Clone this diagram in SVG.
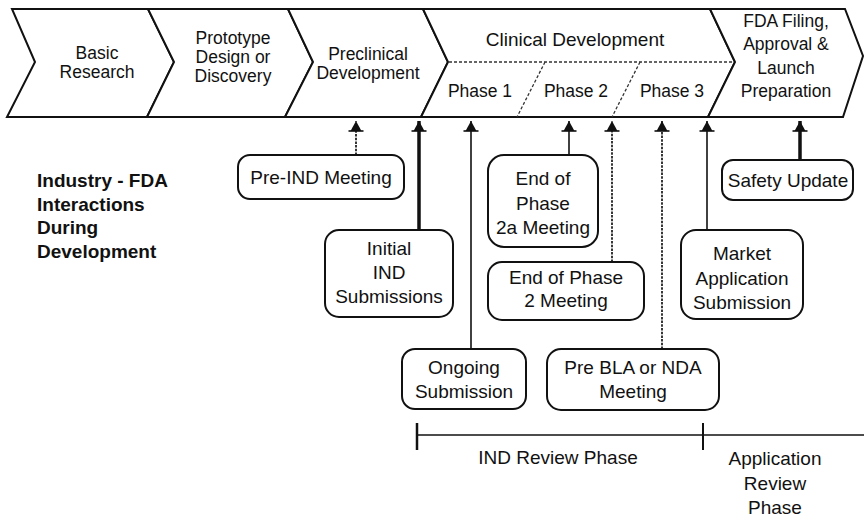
<svg xmlns="http://www.w3.org/2000/svg" width="864" height="518" viewBox="0 0 864 518">
<style>
.t{font-family:"Liberation Sans",Arial,sans-serif;font-size:19px;fill:#111;text-anchor:middle}
.s{font-family:"Liberation Sans",Arial,sans-serif;font-size:17.5px;fill:#111;text-anchor:middle}
.b{font-family:"Liberation Sans",Arial,sans-serif;font-size:19px;font-weight:bold;fill:#111}
.chev{fill:#fff;stroke:#111;stroke-width:2;stroke-linejoin:miter}
.box{fill:#fff;stroke:#111;stroke-width:2}
.dash{fill:none;stroke:#333;stroke-width:1.3;stroke-dasharray:3 2}
.c{fill:none;stroke:#111;stroke-width:1.6}
.cd{fill:none;stroke:#222;stroke-width:1.8;stroke-dasharray:2.5 1.2}
.ck{fill:none;stroke:#111;stroke-width:3.5}
</style>
<defs>
<marker id="ah" viewBox="-13 -9 15 18" refX="0" refY="0" markerWidth="15" markerHeight="18" markerUnits="userSpaceOnUse" orient="auto">
<path d="M0,0 L-10,-5.5 L-10,5.5 Z" fill="#111"/>
<path d="M-10,-7.5 L-10,7.5" stroke="#111" stroke-width="1.6"/>
</marker>
</defs>
<rect width="864" height="518" fill="#fff"/>
<g id="stage-basic">
<polygon class="chev" points="12,9 148,9 174,62 147,117 7,117 35,62"/>
<text class="s" x="97" y="59">Basic</text>
<text class="s" x="97" y="78">Research</text>
</g>
<g id="stage-prototype">
<polygon class="chev" points="148,9 288,9 313,62 285,117 147,117 174,62"/>
<text class="s" x="233" y="44">Prototype</text>
<text class="s" x="233" y="63">Design or</text>
<text class="s" x="233" y="82">Discovery</text>
</g>
<g id="stage-preclinical">
<polygon class="chev" points="288,9 423,9 448,62 421,117 285,117 313,62"/>
<text class="s" x="368" y="60">Preclinical</text>
<text class="s" x="368" y="79">Development</text>
</g>
<g id="stage-clinical">
<polygon class="chev" points="423,9 710,9 735,62 708,117 421,117 448,62"/>
<text class="t" x="575" y="46">Clinical Development</text>
<line class="dash" x1="449" y1="62" x2="734" y2="62"/>
<line class="dash" x1="545" y1="62" x2="517" y2="117"/>
<line class="dash" x1="640" y1="62" x2="612" y2="117"/>
<text class="s" x="480" y="97">Phase 1</text>
<text class="s" x="576" y="97">Phase 2</text>
<text class="s" x="672" y="97">Phase 3</text>
</g>
<g id="stage-fda">
<polygon class="chev" points="710,9 845,9 863,56 843,117 708,117 735,62"/>
<text class="s" x="786" y="27">FDA Filing,</text>
<text class="s" x="786" y="50">Approval &amp;</text>
<text class="s" x="786" y="74">Launch</text>
<text class="s" x="786" y="97">Preparation</text>
</g>
<g id="title">
<text class="b" x="37" y="187">Industry - FDA</text>
<text class="b" x="37" y="211">Interactions</text>
<text class="b" x="37" y="234">During</text>
<text class="b" x="37" y="258">Development</text>
</g>
<g id="connectors">
<line class="cd" x1="356" y1="155" x2="356" y2="121" marker-end="url(#ah)"/>
<line class="ck" x1="419" y1="230" x2="419" y2="121" marker-end="url(#ah)"/>
<line class="c" x1="471" y1="349" x2="471" y2="121" marker-end="url(#ah)"/>
<line class="c" x1="569" y1="155" x2="569" y2="121" stroke-width="2" marker-end="url(#ah)"/>
<line class="cd" x1="612" y1="262" x2="612" y2="121" marker-end="url(#ah)"/>
<line class="cd" x1="662" y1="349" x2="662" y2="121" marker-end="url(#ah)"/>
<line class="c" x1="707" y1="230" x2="707" y2="121" marker-end="url(#ah)"/>
<line class="ck" x1="800" y1="160" x2="800" y2="121" marker-end="url(#ah)"/>
</g>
<g id="pre-ind">
<rect class="box" x="238" y="155" width="166" height="44" rx="12"/>
<text class="t" x="321" y="184">Pre-IND Meeting</text>
</g>
<g id="initial-ind">
<rect class="box" x="325" y="230" width="128" height="87" rx="14"/>
<text class="t" x="389" y="255">Initial</text>
<text class="t" x="389" y="279">IND</text>
<text class="t" x="389" y="303">Submissions</text>
</g>
<g id="end-phase-2a">
<rect class="box" x="488" y="155" width="110" height="92" rx="16"/>
<text class="t" x="543" y="185">End of</text>
<text class="t" x="543" y="210">Phase</text>
<text class="t" x="543" y="234">2a Meeting</text>
</g>
<g id="end-phase-2">
<rect class="box" x="488" y="262" width="156" height="58" rx="14"/>
<text class="t" x="566" y="284">End of Phase</text>
<text class="t" x="566" y="307">2 Meeting</text>
</g>
<g id="ongoing">
<rect class="box" x="402" y="349" width="124" height="60" rx="13"/>
<text class="t" x="464" y="374">Ongoing</text>
<text class="t" x="464" y="398">Submission</text>
</g>
<g id="pre-bla">
<rect class="box" x="547" y="349" width="172" height="61" rx="14"/>
<text class="t" x="633" y="374">Pre BLA or NDA</text>
<text class="t" x="633" y="398">Meeting</text>
</g>
<g id="market-app">
<rect class="box" x="681" y="230" width="122" height="89" rx="15"/>
<text class="t" x="742" y="260">Market</text>
<text class="t" x="742" y="285">Application</text>
<text class="t" x="742" y="309">Submission</text>
</g>
<g id="safety">
<rect class="box" x="722" y="160" width="131" height="40" rx="11"/>
<text class="t" x="788" y="187">Safety Update</text>
</g>
<g id="timeline">
<line x1="417" y1="435" x2="864" y2="435" stroke="#111" stroke-width="1.5"/>
<line x1="417" y1="423" x2="417" y2="450" stroke="#111" stroke-width="2.5"/>
<line x1="703" y1="423" x2="703" y2="450" stroke="#111" stroke-width="2"/>
<text class="t" x="558" y="464">IND Review Phase</text>
<text class="t" x="775" y="465">Application</text>
<text class="t" x="775" y="490">Review</text>
<text class="t" x="775" y="514">Phase</text>
</g>
</svg>
